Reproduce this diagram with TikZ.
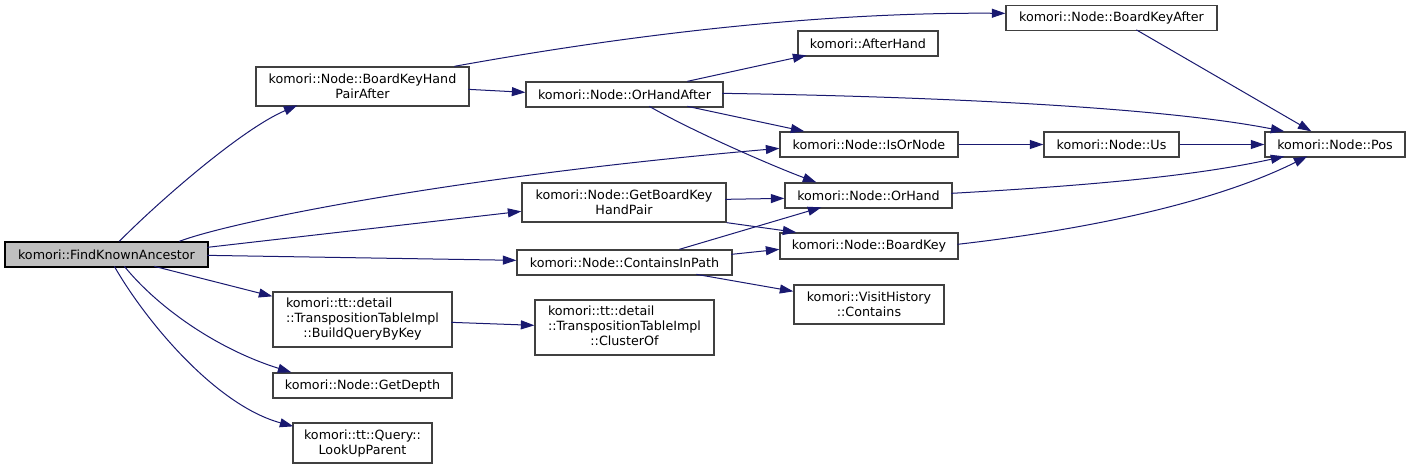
\documentclass[tikz,border=0pt]{standalone}
\usepackage{fontspec}
\setmainfont{DejaVu Sans}
\usetikzlibrary{arrows.meta,calc}
\definecolor{edgeblue}{HTML}{191970}
\definecolor{boxline}{HTML}{404040}
\definecolor{rootfill}{HTML}{BFBFBF}
\begin{document}
\begin{tikzpicture}[x=1pt,y=-1pt,
  box/.style={draw=boxline,line width=1.3pt,fill=white,rectangle,inner sep=0pt,align=center,
    font=\fontsize{12.7}{15}\selectfont},
  rootbox/.style={box,draw=black,fill=rootfill},
  call/.style={draw=edgeblue,line width=1pt,-{Triangle[length=13.5pt,width=9pt]},fill=none}]
\useasboundingbox (0,0) rectangle (1411,470);
\fill[white] (0,0) rectangle (1411,470);
% nodes
\node[rootbox,minimum width=203pt,minimum height=25pt] (fka) at (106.5,254.5) {komori::FindKnownAncestor};
\node[box,minimum width=213pt,minimum height=39pt] (bkhpa) at (362.5,86.5) {komori::Node::BoardKeyHand\\PairAfter};
\node[box,minimum width=197pt,minimum height=25pt] (oha) at (624.5,94.5) {komori::Node::OrHandAfter};
\node[box,minimum width=140pt,minimum height=25pt] (ah) at (868,43.5) {komori::AfterHand};
\node[box,minimum width=211pt,minimum height=25pt] (bka) at (1111.5,18) {komori::Node::BoardKeyAfter};
\node[box,minimum width=178pt,minimum height=25pt] (ion) at (869,144.5) {komori::Node::IsOrNode};
\node[box,minimum width=135pt,minimum height=25pt] (us) at (1111.5,144.5) {komori::Node::Us};
\node[box,minimum width=140pt,minimum height=25pt] (pos) at (1335,144.5) {komori::Node::Pos};
\node[box,minimum width=204pt,minimum height=39pt] (gbkhp) at (624,202.5) {komori::Node::GetBoardKey\\HandPair};
\node[box,minimum width=167pt,minimum height=25pt] (oh) at (868.5,195.5) {komori::Node::OrHand};
\node[box,minimum width=178pt,minimum height=26pt] (bk) at (869,246) {komori::Node::BoardKey};
\node[box,minimum width=215pt,minimum height=25pt] (cip) at (624.5,262.5) {komori::Node::ContainsInPath};
\node[box,minimum width=150pt,minimum height=39pt] (vhc) at (869,304.5) {komori::VisitHistory\\::Contains};
\node[box,minimum width=179pt,minimum height=55pt] (bqk) at (362.5,319.5)
  {\begin{tabular}{@{}l@{}}komori::tt::detail\\::TranspositionTableImpl\\\multicolumn{1}{@{}c@{}}{::BuildQueryByKey}\end{tabular}};
\node[box,minimum width=179pt,minimum height=55pt] (co) at (624.5,327.5)
  {\begin{tabular}{@{}l@{}}komori::tt::detail\\::TranspositionTableImpl\\\multicolumn{1}{@{}c@{}}{::ClusterOf}\end{tabular}};
\node[box,minimum width=179pt,minimum height=25pt] (gd) at (362.5,385.5) {komori::Node::GetDepth};
\node[box,minimum width=139pt,minimum height=40pt] (lup) at (362.5,443) {komori::tt::Query::\\LookUpParent};
% connectors
\draw[call] ($(fka.north west)+(115,0)$) .. controls (155,205) and (240,130) .. ($(bkhpa.north west)+(42,39)$);
\draw[call] ($(fka.north west)+(175,0)$) .. controls (230,222) and (450,177) .. ($(ion.north west)+(0,17)$);
\draw[call] ($(fka.north west)+(203,6)$) -- ($(gbkhp.north west)+(0,29)$);
\draw[call] ($(fka.north west)+(203,14)$) -- ($(cip.north west)+(0,11)$);
\draw[call] ($(fka.north west)+(150,25)$) -- ($(bqk.north west)+(0,5)$);
\draw[call] ($(fka.north west)+(120,25)$) .. controls (160,310) and (220,350) .. ($(gd.north west)+(19,0)$);
\draw[call] ($(fka.north west)+(110,25)$) .. controls (145,320) and (215,405) .. ($(lup.north west)+(1,4)$);
\draw[call] ($(bkhpa.north west)+(199,0)$) .. controls (600,40) and (800,12) .. ($(bka.north west)+(0,8.5)$);
\draw[call] ($(bkhpa.north west)+(213,23)$) -- ($(oha.north west)+(0,11)$);
\draw[call] ($(oha.north west)+(162,0)$) -- ($(ah.north west)+(9,25)$);
\draw[call] ($(oha.north west)+(197,12)$) .. controls (900,96) and (1150,105) .. ($(pos.north west)+(20,0)$);
\draw[call] ($(oha.north west)+(162,25)$) -- ($(ion.north west)+(25,0)$);
\draw[call] ($(oha.north west)+(124,25)$) .. controls (690,130) and (770,165) .. ($(oh.north west)+(32,0)$);
\draw[call] ($(bka.north west)+(131,25)$) -- ($(pos.north west)+(47,0)$);
\draw[call] (ion.east) -- (us.west);
\draw[call] (us.east) -- (pos.west);
\draw[call] ($(oh.north west)+(167,11)$) .. controls (1100,185) and (1200,175) .. ($(pos.north west)+(20,25)$);
\draw[call] ($(bk.north west)+(178,12)$) .. controls (1100,228) and (1220,200) .. ($(pos.north west)+(43,25)$);
\draw[call] ($(gbkhp.north west)+(204,17)$) -- ($(oh.north west)+(0,16)$);
\draw[call] (gbkhp.south east) -- ($(bk.north west)+(17,0)$);
\draw[call] ($(cip.north west)+(163,0)$) -- ($(oh.north west)+(37,25)$);
\draw[call] ($(cip.north west)+(215,5)$) -- ($(bk.north west)+(0,17)$);
\draw[call] ($(cip.north west)+(180,25)$) -- ($(vhc.north west)+(0,7)$);
\draw[call] ($(bqk.north west)+(179,31)$) -- ($(co.north west)+(0,26)$);
\end{tikzpicture}
\end{document}
